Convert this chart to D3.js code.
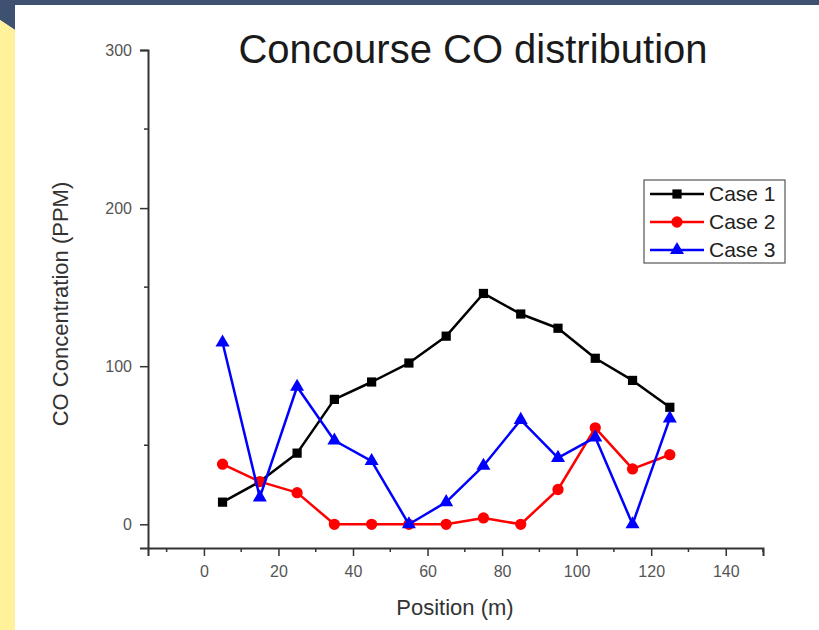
<!DOCTYPE html>
<html>
<head>
<meta charset="utf-8">
<script src="https://cdn.jsdelivr.net/npm/d3@7"></script>
<style>
  body { margin: 0; background: #fff; }
  text { font-family: "Liberation Sans", Arial, sans-serif; }
</style>
</head>
<body>
<div id="chart"></div>
<script>
const positions = [5, 15, 25, 35, 45, 55, 65, 75, 85, 95, 105, 115, 125];
const case1 = [14, 27, 45, 79, 90, 102, 119, 146, 133, 124, 105, 91, 74];
const case2 = [38, 27, 20, 0, 0, 0, 0, 4, 0, 22, 61, 35, 44];
const case3 = [115, 17, 87, 53, 40, 0, 14, 37, 66, 42, 55, 0, 67];
const seriesNames = ["Case 1", "Case 2", "Case 3"];
const xTicks = [0, 20, 40, 60, 80, 100, 120, 140];
const yTicks = [0, 100, 200, 300];

const W = 819, H = 630;
const svg = d3.select("#chart").append("svg")
    .attr("width", W)
    .attr("height", H);

// page decoration
svg.append("polygon")
    .attr("points", "0,0 819,0 819,5 15,5 15,30 0,20")
    .attr("fill", "#3f5170");
svg.append("polygon")
    .attr("points", "0,20 15,30 15,630 0,630")
    .attr("fill", "#fff29a");

const x = d3.scaleLinear().domain([-15, 150]).range([148, 763]);
const y = d3.scaleLinear().domain([-15, 300]).range([548, 50]);

const axisColor = "#333";

// axes
const xAxis = svg.append("g")
    .attr("transform", `translate(0,${y(-15)})`)
    .call(d3.axisBottom(x).tickValues(xTicks).tickSize(8).tickPadding(10));
const yAxis = svg.append("g")
    .attr("transform", `translate(${x(-15)},0)`)
    .call(d3.axisLeft(y).tickValues(yTicks).tickSize(8).tickPadding(8));

[xAxis, yAxis].forEach(g => {
    g.select(".domain").attr("stroke", axisColor).attr("stroke-width", 2);
    g.selectAll(".tick line").attr("stroke", axisColor).attr("stroke-width", 1.5);
    g.selectAll(".tick text")
        .attr("fill", "#555")
        .attr("font-size", 16)
        .attr("font-family", "Liberation Sans, Arial, sans-serif");
});

// minor ticks
svg.append("g")
    .selectAll("line")
    .data([-10, 10, 30, 50, 70, 90, 110, 130, 150])
    .join("line")
    .attr("x1", d => x(d)).attr("x2", d => x(d))
    .attr("y1", y(-15)).attr("y2", y(-15) + 4)
    .attr("stroke", axisColor).attr("stroke-width", 1.5);
svg.append("g")
    .selectAll("line")
    .data([50, 150, 250])
    .join("line")
    .attr("x1", x(-15)).attr("x2", x(-15) - 4)
    .attr("y1", d => y(d)).attr("y2", d => y(d))
    .attr("stroke", axisColor).attr("stroke-width", 1.5);

// labels
svg.append("text")
    .attr("x", 473)
    .attr("y", 63)
    .attr("text-anchor", "middle")
    .attr("font-size", 40)
    .attr("fill", "#1a1a1a")
    .text("Concourse CO distribution");

svg.append("text")
    .attr("x", 455)
    .attr("y", 615)
    .attr("text-anchor", "middle")
    .attr("font-size", 22)
    .attr("fill", "#333")
    .text("Position (m)");

svg.append("text")
    .attr("transform", "translate(68,304) rotate(-90)")
    .attr("text-anchor", "middle")
    .attr("font-size", 22)
    .attr("fill", "#333")
    .text("CO Concentration (PPM)");

// series
const series = [
    { name: seriesNames[0], values: case1, color: "#000000", shape: d3.symbolSquare, size: 85 },
    { name: seriesNames[1], values: case2, color: "#ff0000", shape: d3.symbolCircle, size: 100 },
    { name: seriesNames[2], values: case3, color: "#0000ff", shape: d3.symbolTriangle, size: 85 }
];

const line = d3.line()
    .x(d => x(d[0]))
    .y(d => y(d[1]));

series.forEach(s => {
    const pts = positions.map((p, i) => [p, s.values[i]]);
    svg.append("path")
        .datum(pts)
        .attr("d", line)
        .attr("fill", "none")
        .attr("stroke", s.color)
        .attr("stroke-width", 2.5)
        .attr("stroke-linejoin", "round");
    svg.append("g")
        .selectAll("path")
        .data(pts)
        .join("path")
        .attr("transform", d => `translate(${x(d[0])},${y(d[1])})`)
        .attr("d", d3.symbol().type(s.shape).size(s.size))
        .attr("fill", s.color);
});

// legend
const legend = svg.append("g").attr("transform", "translate(644,180)");
legend.append("rect")
    .attr("width", 141)
    .attr("height", 83)
    .attr("fill", "#fff")
    .attr("stroke", "#555")
    .attr("stroke-width", 1.2);

const items = legend.selectAll(".item")
    .data(series)
    .join("g")
    .attr("class", "item")
    .attr("transform", (d, i) => `translate(0,${14 + i * 28})`);
items.append("line")
    .attr("x1", 6).attr("x2", 60)
    .attr("stroke", d => d.color)
    .attr("stroke-width", 2.5);
items.append("path")
    .attr("transform", "translate(33,0)")
    .attr("d", d => d3.symbol().type(d.shape).size(d.size)())
    .attr("fill", d => d.color);
items.append("text")
    .attr("x", 65)
    .attr("y", 7)
    .attr("font-size", 21)
    .attr("fill", "#222")
    .text(d => d.name);
</script>
</body>
</html>
